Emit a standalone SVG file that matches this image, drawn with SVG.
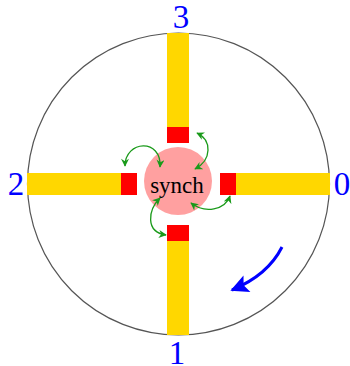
<svg xmlns="http://www.w3.org/2000/svg" width="350" height="366" viewBox="0 0 350 366">
<defs>
<style>
.bar{fill:#ffd700}
.red{fill:#ff0000}
.lbl{font-family:"Liberation Serif","Times New Roman",serif;font-size:33px;fill:#0000ff;text-anchor:middle}
.g{fill:none;stroke:#1a9a1a;stroke-width:1.3}
</style>
<marker id="ga" viewBox="0 0 10 10" refX="9" refY="5" markerWidth="9" markerHeight="8" orient="auto-start-reverse" markerUnits="userSpaceOnUse">
<path d="M0,0 L10,5 L0,10 L3,5 Z" fill="#1a9a1a"/>
</marker>
<marker id="ba" viewBox="0 0 10 10" refX="9" refY="5" markerWidth="24" markerHeight="18" orient="auto" markerUnits="userSpaceOnUse">
<path d="M0,0 L10,5 L0,10 L2,5 Z" fill="#0000ff"/>
</marker>
</defs>
<rect width="350" height="366" fill="#ffffff"/>
<g id="ring"><circle cx="178.5" cy="184" r="151" fill="none" stroke="#555" stroke-width="1.2"/></g>
<g id="track3"><rect class="bar" x="167" y="33" width="22" height="94"/><rect class="red" x="167" y="127" width="22" height="16"/></g>
<g id="track2"><rect class="bar" x="27" y="173" width="95" height="22"/><rect class="red" x="121" y="173" width="16" height="22"/></g>
<g id="track0"><rect class="bar" x="236" y="173" width="94" height="22"/><rect class="red" x="220" y="173" width="16" height="22"/></g>
<g id="track1"><rect class="bar" x="167" y="241" width="22" height="94"/><rect class="red" x="167" y="225" width="22" height="16"/></g>
<g id="synch"><circle cx="178" cy="181" r="34" fill="#ffa0a0"/>
<text x="177" y="193" font-family="'Liberation Serif','Times New Roman',serif" font-size="23" text-anchor="middle" fill="#000">synch</text></g>
<g id="labels">
<text class="lbl" x="181" y="28">3</text>
<text class="lbl" x="16" y="195">2</text>
<text class="lbl" x="342" y="195">0</text>
<text class="lbl" x="177" y="364">1</text>
</g>
<g id="connectors">
<path class="g" d="M197,133 C212,140 212,160 195,169" marker-start="url(#ga)" marker-end="url(#ga)"/>
<path class="g" d="M125,166 C125,140 162,138 160,167" marker-start="url(#ga)" marker-end="url(#ga)"/>
<path class="g" d="M160,198 C148,210 145,232 166,235" marker-start="url(#ga)" marker-end="url(#ga)"/>
<path class="g" d="M230,196 C225,210 205,214 191,203" marker-start="url(#ga)" marker-end="url(#ga)"/>
<path d="M282,247 Q268,275 232,290" fill="none" stroke="#0000ff" stroke-width="3" marker-end="url(#ba)"/>
</g>
</svg>
